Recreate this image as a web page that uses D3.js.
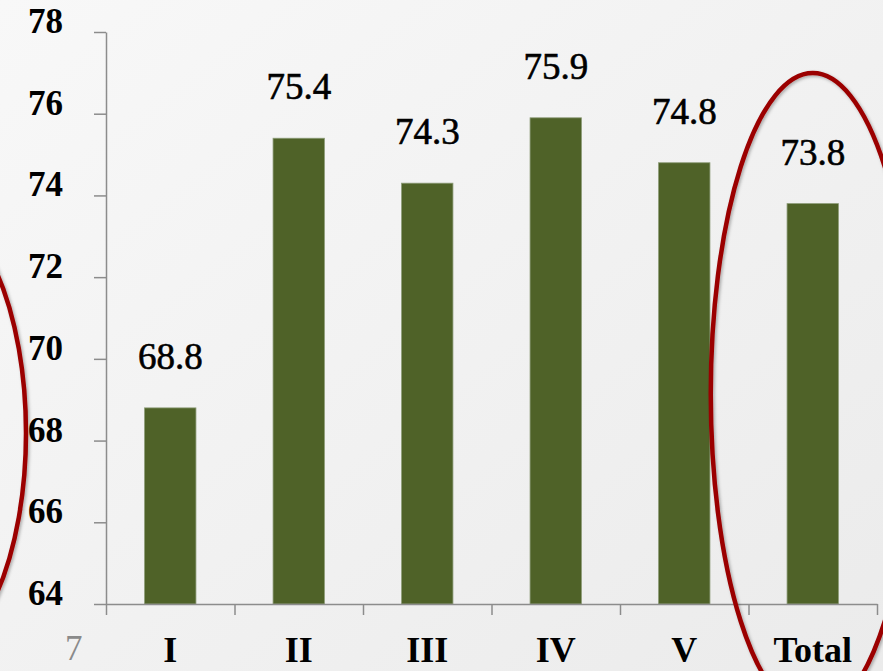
<!DOCTYPE html>
<html><head><meta charset="utf-8">
<script src="https://cdn.jsdelivr.net/npm/d3@7"></script>
<style>html,body{margin:0;padding:0;overflow:hidden;}svg{display:block;}</style>
</head><body>
<script>
const categories = ["I", "II", "III", "IV", "V", "Total"];
const values = [68.8, 75.4, 74.3, 75.9, 74.8, 73.8];
const valueLabels = ["68.8", "75.4", "74.3", "75.9", "74.8", "73.8"];
const yTicks = [64, 66, 68, 70, 72, 74, 76, 78];
const pageNumber = "7";

const W = 883, H = 671;
const svg = d3.select("body").append("svg").attr("width", W).attr("height", H);
const defs = svg.append("defs");
const grad = defs.append("linearGradient").attr("id", "bg").attr("x1", 0).attr("y1", 0).attr("x2", 1).attr("y2", 1);
grad.append("stop").attr("offset", "0%").attr("stop-color", "#f8f8f8");
grad.append("stop").attr("offset", "100%").attr("stop-color", "#ebebeb");
const sh = defs.append("filter").attr("id", "shadow").attr("x", "-10%").attr("y", "-10%").attr("width", "120%").attr("height", "120%");
sh.append("feDropShadow").attr("dx", 1.5).attr("dy", 1.5).attr("stdDeviation", 1.5).attr("flood-color", "#000").attr("flood-opacity", 0.3);

svg.append("rect").attr("width", W).attr("height", H).attr("fill", "url(#bg)");

const y = d3.scaleLinear().domain([64, 78]).range([604, 32]);
const x = d3.scaleBand().domain(categories).range([106, 877]).paddingInner(0.6).paddingOuter(0.3);
const xb = d3.scaleLinear().domain([0, categories.length]).range([106, 877]);

const axisColor = "#8c8c8c";

// bars
svg.append("g").selectAll("rect").data(categories).join("rect")
  .attr("x", d => x(d))
  .attr("width", x.bandwidth())
  .attr("y", (d, i) => y(values[i]))
  .attr("height", (d, i) => y(64) - y(values[i]))
  .attr("fill", "#4f6228")
  .attr("stroke", "#8d9c78").attr("stroke-width", 0.8);

// y axis
const yAxis = svg.append("g").attr("transform", "translate(106,0)")
  .call(d3.axisLeft(y).tickValues(yTicks).tickSize(12).tickSizeOuter(0).tickFormat(""));
yAxis.selectAll("path,line").attr("stroke", axisColor).attr("stroke-width", 1.5);

// x axis
const xAxis = svg.append("g").attr("transform", "translate(0,604)")
  .call(d3.axisBottom(xb).tickValues(d3.range(categories.length + 1)).tickSize(11).tickSizeOuter(0).tickFormat(""));
xAxis.selectAll("path,line").attr("stroke", axisColor).attr("stroke-width", 1.5);

const serif = "'Liberation Serif', 'DejaVu Serif', serif";

// y tick labels
svg.append("g").selectAll("text").data(yTicks).join("text")
  .attr("x", 63).attr("y", d => y(d) + 1)
  .attr("text-anchor", "end")
  .attr("font-family", serif).attr("font-weight", "bold").attr("font-size", 35)
  .attr("fill", "#000").text(d => d);

// category labels
svg.append("g").selectAll("text").data(categories).join("text")
  .attr("x", d => x(d) + x.bandwidth() / 2).attr("y", 662)
  .attr("text-anchor", "middle")
  .attr("font-family", serif).attr("font-weight", "bold").attr("font-size", 36)
  .attr("fill", "#000").text(d => d);

// value labels
svg.append("g").selectAll("text").data(categories).join("text")
  .attr("x", d => x(d) + x.bandwidth() / 2)
  .attr("y", (d, i) => y(values[i]) - 39)
  .attr("text-anchor", "middle")
  .attr("font-family", serif).attr("font-size", 37)
  .attr("fill", "#000").attr("stroke", "#000").attr("stroke-width", 0.6)
  .text((d, i) => valueLabels[i]);

// page number
svg.append("text").attr("x", 65).attr("y", 660)
  .attr("font-family", serif).attr("font-size", 35).attr("fill", "#8a8a8a").text(pageNumber);

// red ellipses
const ell = svg.append("g").attr("filter", "url(#shadow)");
ell.append("ellipse").attr("cx", x("Total") + x.bandwidth() / 2).attr("cy", 394).attr("rx", 102).attr("ry", 321)
  .attr("fill", "none").attr("stroke", "#9b0000").attr("stroke-width", 4.5);
ell.append("ellipse").attr("cx", -76).attr("cy", 433).attr("rx", 102).attr("ry", 229)
  .attr("fill", "none").attr("stroke", "#9b0000").attr("stroke-width", 4.5);
</script>
</body></html>
